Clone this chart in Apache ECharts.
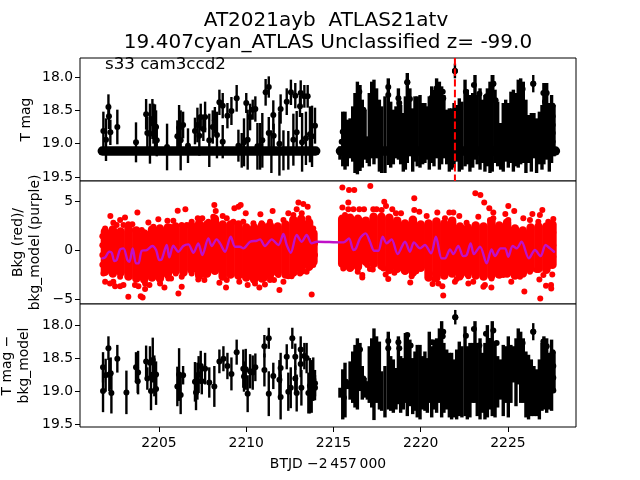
<!DOCTYPE html>
<html><head><meta charset="utf-8">
<script src="https://cdn.jsdelivr.net/npm/echarts@6/dist/echarts.min.js"></script>
<style>html,body{margin:0;background:#fff}#c{width:640px;height:480px}</style></head>
<body><div id="c"></div>
<script>
const titleLine1 = "AT2021ayb  ATLAS21atv";
const titleLine2 = "19.407cyan_ATLAS Unclassified z= -99.0";
const sectorNote = "s33 cam3ccd2";
const xLabel = "BTJD \u22122\u2009457\u2009000";
const xTicks = [2205, 2210, 2215, 2220, 2225];
const magTicks = [18, 18.5, 19, 19.5];
const bkgTicks = [-5, 0, 5];
const eventTime = 2221.96;

// Panel 1: individually readable points (time, mag, error)
const sparseT = [2201.81,2201.96,2202.10,2202.13,2202.21,2202.61,2203.68,2204.26,2204.33,2204.48,2204.62,2204.68,2204.77,2204.83,2204.87,2205.46,2206.05,2206.15,2206.24,2206.38,2206.66,2207.06,2207.2,2207.31,2207.39,2207.54,2207.64,2207.88,2208.08,2208.2,2208.32,2208.46,2208.65,2208.65,2208.92,2209.15,2209.45,2209.55,2209.74,2209.87,2210.0,2210.08,2210.22,2210.37,2210.52,2210.64,2210.79,2210.92,2211.11,2211.29,2211.29,2211.44,2211.55,2211.57,2211.9,2211.97,2212.13,2212.32,2212.41,2212.56,2212.7,2212.81,2212.89,2213.12,2213.08,2213.2,2213.33,2213.42,2213.52,2213.65,2213.77,2213.94,2221.96,2226.45,2224.16,2219.23];
const sparseMag = [18.81,18.94,18.45,18.59,18.83,18.75,18.98,18.56,18.84,18.85,18.63,18.7,18.76,18.75,18.95,19.05,18.89,18.76,18.95,18.72,19.03,18.81,18.72,18.88,18.6,18.78,18.6,18.95,18.75,18.65,18.87,18.38,18.43,18.97,18.58,18.51,18.32,19.03,19.1,18.98,18.39,18.94,18.6,18.49,18.48,19.04,19.04,18.95,18.23,18.15,18.84,19.12,18.57,18.88,19.0,18.48,19.1,18.37,19.1,18.23,18.94,18.28,18.83,18.24,18.44,18.98,18.29,18.92,18.29,18.86,18.89,18.73,17.91,18.10,18.10,18.08];
const sparseErr = [.29,.32,.19,.19,.19,.26,.3,.23,.24,.45,.3,.3,.35,.25,.24,.35,.24,.34,.45,.2,.26,.2,.26,.3,.2,.18,.23,.4,.25,.2,.35,.19,.19,.25,.19,.21,.2,.24,.26,.36,.15,.45,.2,.15,.19,.35,.35,.41,.2,.16,.24,.32,.22,.18,.48,.22,.3,.2,.29,.19,.39,.19,.32,.19,.16,.44,.17,.4,.17,.42,.46,.27,.11,.13,.13,.13];

// Limit-level runs of the first panel (mag reads 19.11 over each orbit)
const limitLeftT = [2201.75, 2213.98];
const limitRightT = [2215.4, 2227.72];
const limitMag = [19.11, 19.11];

// Dense second orbit: shared times with the bright/faint end of each bar
const denseT = [2215.37,2215.53,2215.66,2215.79,2215.95,2216.10,2216.23,2216.37,2216.52,2216.65,2216.81,2216.94,2217.05,2217.19,2217.32,2217.47,2217.63,2217.76,2217.95,2218.14,2218.28,2218.43,2218.58,2218.72,2218.85,2219.0,2219.12,2219.23,2219.38,2219.54,2219.67,2219.80,2219.96,2220.11,2220.24,2220.38,2220.49,2220.63,2220.76,2220.91,2221.07,2221.2,2221.33,2221.49,2221.64,2221.77,2221.91,2222.06,2222.21,2222.36,2222.54,2222.67,2222.82,2222.98,2223.11,2223.24,2223.40,2223.55,2223.68,2223.82,2223.97,2224.10,2224.26,2224.41,2224.58,2224.73,2224.87,2225.02,2225.17,2225.31,2225.46,2225.59,2225.73,2225.88,2226.03,2226.18,2226.34,2226.49,2226.64,2226.80,2226.95,2227.06,2227.22,2227.37,2227.50,2227.64];
const denseTopBright = [19.04,18.52,18.52,18.64,18.62,18.44,18.24,18.07,18.12,18.34,18.49,18.89,18.24,18.07,18.04,18.17,18.34,18.44,18.29,18.02,18.37,18.49,18.44,18.17,18.42,18.54,18.29,17.94,18.17,18.47,18.29,18.29,18.27,18.39,18.39,18.44,18.29,18.14,18.19,18.02,18.07,18.14,18.27,18.49,18.47,18.47,18.39,18.42,18.32,18.37,18.04,18.19,18.27,18.24,17.97,18.27,18.17,18.34,18.27,18.17,18.07,17.97,18.19,18.37,18.69,18.39,18.34,18.39,18.22,18.19,18.24,18.04,18.02,18.07,18.34,18.57,18.54,18.54,18.62,18.52,18.42,18.09,18.09,18.39,18.27,18.42];
const denseTopFaint = [19.24,19.34,19.39,19.34,19.22,19.27,19.44,19.46,19.41,19.36,19.24,19.29,19.34,19.22,19.31,19.22,19.42,19.44,19.44,19.32,19.36,19.31,19.22,19.24,19.31,19.42,19.39,19.29,19.19,19.42,19.27,19.34,19.36,19.31,19.29,19.24,19.39,19.29,19.34,19.22,19.39,19.31,19.22,19.31,19.42,19.39,19.36,19.27,19.42,19.39,19.34,19.31,19.42,19.36,19.24,19.31,19.39,19.29,19.42,19.34,19.44,19.42,19.29,19.34,19.39,19.42,19.27,19.36,19.29,19.42,19.34,19.36,19.31,19.29,19.44,19.29,19.42,19.22,19.44,19.31,19.39,19.31,19.24,19.42,19.29,19.19];
const denseTopDotT = [2215.53,2216.48,2216.71,2218.14,2218.14,2218.72,2218.77,2219.23,2219.38,2220.63,2220.91,2221.26,2221.29,2221.96,2222.59,2223.05,2223.36,2223.78,2223.97,2224.16,2224.29,2225.84,2226.45,2227.03,2227.22,2227.12,2227.56,2227.56,2227.56,2227.56,2227.56,2215.47];
const denseTopDotMag = [18.82,18.22,18.49,18.15,18.27,18.32,18.39,18.08,18.33,18.31,18.17,18.22,18.32,17.91,18.22,18.12,18.25,18.29,18.22,18.10,18.35,18.18,18.10,18.24,18.24,18.37,18.43,18.59,18.72,18.84,18.97,18.97];

// Panel 2: background core per time column (low, high) and individual points
const coreT = [2201.9,2202.35,2202.8,2203.25,2203.7,2204.15,2204.6,2205.05,2205.5,2205.95,2206.4,2206.85,2207.3,2207.75,2208.2,2208.65,2209.1,2209.55,2210.0,2210.45,2210.9,2211.35,2211.8,2212.25,2212.7,2213.15,2213.6,2213.85,2215.5,2215.95,2216.4,2216.85,2217.3,2217.75,2218.2,2218.65,2219.1,2219.55,2220.0,2220.45,2220.9,2221.35,2221.8,2222.25,2222.7,2223.15,2223.6,2224.05,2224.5,2224.95,2225.4,2225.85,2226.3,2226.75,2227.2,2227.55];
const coreLow = [-2.2,-2.4,-2.3,-2.7,-2.9,-3,-2.8,-2.9,-2.5,-2.1,-2.3,-2,-2.6,-2.4,-2.1,-2.7,-2.5,-2.6,-2.8,-3,-2.9,-2.6,-2.3,-2.5,-2.3,-2.1,-1.7,-1.2,-1.4,-1.8,-1.7,-1.2,-1.4,-1.6,-2,-1.9,-2.1,-2.3,-1.8,-2.8,-2.8,-2.6,-2.4,-2.6,-2.4,-2.6,-2.7,-2.6,-2.5,-2.4,-2.6,-2.4,-1.9,-1.9,-2,-1.5];
const coreHigh = [1.9,2.1,1.9,2.2,2,1.7,2.1,2.2,2.3,2.4,2.2,2.5,2.7,2.6,3.2,2.6,2.6,2.6,2.3,2.3,2.5,2.5,2.4,2.6,3.1,3.2,2.8,1.7,3.2,3.3,3.2,3,3.4,3.4,3.3,3,2.7,3.1,2.6,2.7,2.9,2.7,3,2.4,2.3,2.5,2.4,2.9,2.5,2.8,2.2,2,2.3,2.4,2.4,2.6];
const bkgT = [2202.21,2203.05,2203.76,2202.77,2202.38,2201.91,2202.57,2202.96,2203.24,2203.47,2204.39,2204.96,2205.48,2205.82,2206.07,2206.51,2206.87,2207.22,2207.48,2208.17,2208.25,2208.65,2208.88,2209.32,2209.55,2209.68,2209.97,2210.81,2211.51,2212.41,2212.99,2213.27,2213.52,2212.89,2212.7,2213.18,2213.56,2213.84,2212.13,2211.36,2209.83,2209.26,2208.11,2207.83,2206.59,2206.3,2205.63,2204.68,2204.01,2203.62,2210.41,2210.88,
2201.91,2202.19,2202.38,2202.48,2202.77,2202.96,2202.77,2203.24,2203.95,2204.06,2203.62,2203.82,2204.2,2204.45,2204.2,2205.06,2205.31,2205.54,2205.69,2205.96,2206.3,2206.11,2206.3,2206.87,2207.25,2207.6,2207.64,2208.46,2208.84,2208.88,2209.6,2210.08,2210.5,2210.75,2211.07,2211.04,2211.36,2211.59,2211.9,2212.13,2211.84,2212.41,2212.6,2213.08,2213.46,2213.75,2213.84,2213.94,2213.94,2201.81,2202.0,2201.75,2201.75,2201.75,2201.75,2213.84,2213.84,
2215.51,2215.89,2216.19,2217.11,2217.91,2215.85,2219.63,2223.13,2223.42,2223.64,2223.93,2224.16,2225.02,2225.36,2224.85,2223.3,2226.4,2226.97,2226.83,2225.88,2226.26,2226.74,2227.6,2227.31,2220.95,2221.64,2221.87,2222.21,2222.63,2221.39,2220.34,2219.92,2219.63,2218.87,2218.58,2218.37,2218.01,2217.76,2217.47,2217.28,2216.75,2216.48,2216.14,2215.85,2215.51,2215.66,2215.47,2224.16,2223.97,2225.02,
2215.56,2215.76,2216.39,2216.65,2216.65,2216.94,2217.09,2217.25,2217.86,2217.99,2218.2,2218.14,2218.49,2219.75,2219.48,2219.4,2220.68,2220.78,2221.01,2221.24,2221.29,2221.96,2222.06,2222.25,2222.73,2222.73,2223.01,2223.59,2223.68,2224.05,2224.06,2225.19,2225.69,2225.94,2226.8,2226.85,2227.03,2227.18,2227.47,2227.48,2227.54,2227.37,2226.64,2226.26,2224.73,2224.44,2221.58,2220.53,2227.6,2227.6,2227.6,2215.47,2215.47];
const bkgValue = [3.47,3.33,3.84,3.06,2.79,2.21,2.55,2.55,2.62,2.62,2.82,3.13,2.99,2.99,4.01,4.15,2.89,3.23,3.23,4.59,3.98,3.47,3.23,4.25,4.42,4.59,3.74,3.64,3.98,3.74,4.86,4.69,4.42,4.15,3.57,3.74,3.23,2.21,3.06,2.89,2.89,2.89,3.4,2.89,2.55,2.55,2.38,2.38,2.04,2.04,2.72,2.72,
-3.23,-3.4,-3.23,-3.68,-3.68,-3.57,-2.72,-4.77,-4.7,-4.83,-3.57,-3.68,-3.98,-3.57,-3.4,-3.4,-3.81,-2.89,-2.89,-2.38,-3.74,-4.42,-2.72,-2.38,-3,-3.06,-2.55,-3.34,-3.81,-3.06,-3.23,-3.57,-3.4,-3.81,-3.51,-2.89,-3.06,-3.06,-4.08,-3.23,-2.55,-2.66,-2.66,-2.38,-2.21,-4.53,-1.53,-0.51,0.68,-2.38,-2.04,1.4,0.5,-0.5,-1.5,1.7,0.34,
6.39,6.12,6.12,6.53,4.93,4.86,5.27,5.78,5.61,4.86,4.25,3.84,4.49,3.98,3.67,3.4,3.67,4.08,3.57,3.23,3.06,2.89,3.16,2.89,3.84,3.84,3.84,3.47,2.79,3.23,3.47,3.91,4.08,3.74,3.74,4.15,4.49,4.08,4.15,4.15,4.15,4.15,4.15,4.15,4.35,3.57,2.55,3.23,3.06,3.06,
-1.87,-1.53,-2.21,-2.55,-2.79,-1.53,-1.94,-1.97,-1.87,-2.49,-2.11,-2.96,-2.32,-2.15,-2.66,-3.3,-3.47,-3,-3.4,-3.68,-4.63,-3.23,-2.96,-2.79,-3.4,-2.66,-3.23,-3.74,-3.57,-3.81,-2.89,-3.23,-2.72,-4.22,-3,-4.93,-2.55,-3.64,-3.57,-3.91,-2.49,-1.63,-2.04,-2.21,-2.55,-2.55,-2.21,-2.38,-0.68,0.5,1.8,-0.51,0.51];
const modelT = [2201.75,2201.91,2202.15,2202.29,2202.44,2202.57,2202.77,2202.96,2203.19,2203.3,2203.49,2203.68,2203.82,2204.01,2204.29,2204.62,2204.83,2205.02,2205.15,2205.44,2205.59,2205.82,2206.11,2206.39,2206.68,2206.97,2207.25,2207.48,2207.83,2208.02,2208.3,2208.5,2208.78,2209.11,2209.36,2209.64,2209.83,2210.22,2210.6,2210.79,2211.07,2211.46,2211.84,2212.13,2212.32,2212.55,2212.89,2213.18,2213.46,2213.75,2214.04,2215.47,2215.66,2215.89,2216.14,2216.29,2216.52,2216.84,2217.09,2217.34,2217.57,2217.82,2218.05,2218.33,2218.68,2219.1,2219.38,2219.61,2219.96,2220.24,2220.59,2220.87,2221.2,2221.39,2221.68,2221.87,2222.15,2222.44,2222.63,2222.86,2223.05,2223.4,2223.78,2224.06,2224.26,2224.58,2224.83,2225.02,2225.27,2225.5,2225.78,2226.2,2226.55,2226.87,2227.16,2227.41,2227.64];
const modelValue = [-0.85,-0.75,-0.17,-0.27,-1.13,-1.02,0.07,0.17,-1.02,-1.19,0.17,-1.36,-1.36,-0.07,0,0.41,0,-1.02,-0.96,0.51,-0.75,0.44,-0.17,0.41,0.58,-0.27,0.68,-0.51,1.19,0.41,1.09,0.68,-0.17,1.36,0.34,0.34,0.17,0.85,0.95,1.09,0.41,1.09,0.51,1.63,0.51,-0.27,1.53,0.85,1.53,0.68,0.85,0.78,0.85,1.19,0,0.17,1.19,1.7,0.85,-0.07,-0.07,1.36,0.68,1.09,-0.41,0.85,-0.17,0.78,0.17,0.51,-0.34,1.36,-0.85,-0.85,0.07,-0.41,0.41,-0.62,-0.51,0.68,-0.41,0.34,-1.36,0.07,-0.62,0.17,0.17,-0.68,0.41,0.17,0.85,-0.85,0,-0.62,0.51,0.17,-0.17];

// Panel 3: detrended magnitudes
const detT = [2201.79,2201.79,2201.94,2202.10,2202.15,2202.23,2202.27,2202.61,2203.13,2203.68,2203.78,2203.8,2204.26,2204.33,2204.48,2204.54,2204.64,2204.73,2204.83,2204.83,2206.05,2206.15,2206.24,2206.38,2207.06,2207.12,2207.2,2207.27,2207.39,2207.45,2207.64,2207.88,2208.17,2208.46,2208.69,2208.92,2209.15,2209.45,2209.83,2209.87,2209.97,2210.08,2210.22,2210.37,2210.52,2211.04,2211.04,2211.29,2211.29,2211.55,2211.9,2211.97,2211.97,2212.32,2212.41,2212.55,2212.64,2212.81,2212.81,2212.89,2213.12,2213.12,2213.16,2213.33,2213.46,2213.56,2213.65,2213.75,2213.84,2213.94,2213.94,2221.98,2226.45];
const detMag = [18.64,19,18.76,18.35,18.75,18.73,19.03,18.51,19.02,18.64,18.85,18.72,18.55,18.81,18.57,19,18.53,18.77,18.75,18.97,18.93,18.75,19.06,18.76,18.86,19.02,18.85,18.75,18.62,18.85,18.66,18.87,18.93,18.55,18.51,18.62,18.74,18.41,18.66,18.78,18.67,19.04,18.7,18.72,18.64,18.32,18.68,18.2,19.04,18.77,18.83,18.65,19.09,18.48,19.01,18.95,18.2,18.48,18.81,19.03,18.37,18.59,18.95,18.47,18.5,19.03,18.92,18.93,18.82,18.88,18.95,17.88,18.1];
const detErr = [.23,.32,.25,.18,.25,.24,.31,.21,.33,.23,.18,.33,.24,.17,.25,.29,.34,.31,.2,.24,.3,.4,.29,.14,.3,.27,.28,.28,.23,.2,.24,.23,.31,.18,.19,.2,.25,.19,.29,.23,.31,.28,.26,.26,.21,.17,.25,.16,.34,.2,.3,.23,.34,.19,.29,.31,.16,.2,.2,.28,.2,.2,.27,.2,.23,.31,.42,.4,.33,.2,.19,.11,.13];
const denseDetBright = [18.95,18.67,18.57,18.85,18.55,18.40,18.30,18.20,18.27,18.62,18.80,18.85,18.32,18.20,18.05,18.17,18.25,18.70,18.62,18.10,18.47,18.52,18.65,18.17,18.47,18.50,18.12,18.13,18.22,18.50,18.40,18.30,18.30,18.47,18.40,18.50,18.10,18.32,18.22,18.20,18.05,17.94,18.27,18.37,18.42,18.42,18.52,18.37,18.25,18.32,18.02,18.32,18.27,18.27,17.94,18.27,18.20,18.42,18.27,18.00,18.20,17.94,18.25,18.47,18.52,18.30,18.32,18.17,18.30,18.32,18.20,18.05,18.10,18.20,18.40,18.45,18.52,18.62,18.67,18.52,18.27,18.17,18.20,18.42,18.22,18.40];
const denseDetFaint = [19.1,19.43,19.40,18.97,19.13,19.18,19.25,19.28,19.0,19.13,19.10,19.13,19.18,19.25,19.44,19.18,19.28,19.30,19.40,19.28,19.30,19.33,19.28,19.20,19.33,19.28,19.18,19.38,19.23,19.35,19.30,19.40,19.43,19.28,19.30,19.33,19.18,19.40,19.28,19.33,19.18,19.40,19.33,19.28,19.40,19.43,19.40,19.43,19.38,19.40,19.38,19.43,19.40,19.18,19.18,19.38,19.43,19.33,19.43,19.40,19.28,19.38,19.40,19.25,19.13,19.38,19.18,19.40,19.18,18.87,19.23,18.90,19.18,19.18,19.40,19.43,19.38,19.38,19.38,19.43,19.30,19.28,19.33,19.28,19.30,18.97];
const denseDetDotT = [2215.53,2215.6,2215.72,2216.52,2216.71,2218.14,2218.14,2218.72,2218.77,2219.23,2219.42,2220.63,2220.63,2221.26,2221.29,2220.97,2221.98,2222.59,2223.05,2223.36,2223.74,2223.97,2224.16,2224.35,2225.84,2226.45,2227.03,2227.22,2227.12,2227.56,2227.6,2227.6,2227.6];
const denseDetDotMag = [19.02,19.1,18.86,18.37,18.81,18.24,18.35,18.26,18.35,18.15,18.31,18.26,18.40,18.17,18.10,18.30,17.88,18.16,18.06,18.31,18.13,18.24,18.08,18.27,18.27,18.1,18.25,18.32,18.46,18.41,18.62,18.80,18.99];

const zip2 = (a, b) => a.map((v, i) => [v, b[i]]);
const zip3 = (a, b, c) => a.map((v, i) => [v, b[i], c[i]]);
const FONT = 'DejaVu Sans';

function rangeItem(width, color, cap) {
  return function (params, api) {
    const a = api.coord([api.value(0), api.value(1)]);
    const b = api.coord([api.value(0), api.value(2)]);
    return { type: 'line', shape: { x1: a[0], y1: a[1], x2: b[0], y2: b[1] },
      style: { stroke: color, lineWidth: width, lineCap: cap } };
  };
}
const ranges = (g, data, w, color, cap, z) => ({ type: 'custom', xAxisIndex: g, yAxisIndex: g, clip: true, z: z || 2,
  renderItem: rangeItem(w, color, cap || 'butt'), encode: { x: 0, y: [1, 2] }, data: data, silent: true });
const dots = (g, data, size, color, z) => ({ type: 'scatter', xAxisIndex: g, yAxisIndex: g, clip: true, z: z || 3,
  symbolSize: size, itemStyle: { color: color, opacity: 1 }, data: data, silent: true });
const thick = (g, data, w, color, z, dash, smooth) => ({ type: 'line', xAxisIndex: g, yAxisIndex: g, clip: true, z: z || 3, symbol: 'none', smooth: smooth || false,
  lineStyle: { width: w, color: color, cap: dash ? 'butt' : 'round', type: dash || 'solid', join: 'round' }, data: data, silent: true });

const sparseRanges = (t, m, e) => t.map((v, i) => [v, m[i] - e[i], m[i] + e[i]]);

const grids = [
  { left: 80, width: 496, top: 58, height: 123 },
  { left: 80, width: 496, top: 181, height: 123 },
  { left: 80, width: 496, top: 304, height: 123 }
].map(g => Object.assign(g, { show: true, borderColor: '#000', borderWidth: 1, backgroundColor: '#fff', containLabel: false, outerBoundsMode: 'none' }));

const xAxis = [0, 1, 2].map(i => ({
  type: 'value', gridIndex: i, min: 2200.47, max: 2228.9, splitLine: { show: false }, axisLine: { show: false },
  axisTick: { show: i === 2, length: 5, lineStyle: { color: '#000', width: 1 }, customValues: xTicks },
  axisLabel: { show: i === 2, color: '#000', fontFamily: FONT, fontSize: 13.9, margin: 9, customValues: xTicks, formatter: v => String(v) },
  name: i === 2 ? xLabel : '', nameLocation: 'middle', nameGap: 30, nameMoveOverlap: false,
  nameTextStyle: { color: '#000', fontFamily: FONT, fontSize: 13.9 }
}));
const yBase = (i, min, max, inverse, ticks, name, gap, fmt) => ({
  type: 'value', gridIndex: i, min: min, max: max, inverse: inverse, splitLine: { show: false }, axisLine: { show: false },
  axisTick: { length: 5, lineStyle: { color: '#000', width: 1 }, customValues: ticks },
  axisLabel: { color: '#000', fontFamily: FONT, fontSize: 13.9, margin: 7, customValues: ticks, formatter: fmt },
  name: name, nameLocation: 'middle', nameRotate: 90, nameGap: gap, nameMoveOverlap: false,
  nameTextStyle: { color: '#000', fontFamily: FONT, fontSize: 13.9, lineHeight: 17 }
});
const yAxis = [
  yBase(0, 17.715, 19.56, true, magTicks, 'T mag', 45, v => v.toFixed(1)),
  yBase(1, -5.5, 7.04, false, bkgTicks, 'Bkg (red)/\nbkg_model (purple)', 36, v => String(v).replace('-', '\u2212')),
  yBase(2, 17.68, 19.545, true, magTicks, 'T mag \u2212\nbkg_model', 47, v => v.toFixed(1))
];

const series = [
  thick(0, zip2(limitLeftT, limitMag), 9.5, '#000', 2),
  thick(0, zip2(limitRightT, limitMag), 9.5, '#000', 2),
  ranges(0, sparseRanges(sparseT, sparseMag, sparseErr), 2.4, '#000'),
  dots(0, zip2(sparseT, sparseMag), 6, '#000'),
  ranges(0, zip3(denseT, denseTopBright, denseTopFaint), 3.4, '#000'),
  dots(0, zip2(denseTopDotT, denseTopDotMag), 6, '#000'),
  thick(0, [[eventTime, 17.715], [eventTime, 19.56]], 2, '#f00', 5, [7.4, 3.2]),
  ranges(1, zip3(coreT, coreLow, coreHigh), 8.5, '#f00', 'round'),
  dots(1, zip2(bkgT, bkgValue), 6, '#f00'),
  thick(1, zip2(modelT, modelValue), 2.4, '#bf10c8', 6, null, 0.3),
  ranges(2, sparseRanges(detT, detMag, detErr), 2.4, '#000'),
  dots(2, zip2(detT, detMag), 6, '#000'),
  ranges(2, zip3(denseT, denseDetBright, denseDetFaint), 3.4, '#000'),
  dots(2, zip2(denseDetDotT, denseDetDotMag), 6, '#000')
];

const chart = echarts.init(document.getElementById('c'), null, { renderer: 'canvas' });
chart.setOption({
  animation: false, backgroundColor: '#fff', grid: grids, xAxis: xAxis, yAxis: yAxis, series: series,
  graphic: [
    { type: 'text', z: 20, style: { text: titleLine1, x: 326, y: 21, fill: '#000', font: '20px "DejaVu Sans"', textAlign: 'center', textVerticalAlign: 'middle' } },
    { type: 'text', z: 20, style: { text: titleLine2, x: 328, y: 43, fill: '#000', font: '20px "DejaVu Sans"', textAlign: 'center', textVerticalAlign: 'middle' } },
    { type: 'text', z: 20, style: { text: sectorNote, x: 105, y: 65, fill: '#000', font: '16.67px "DejaVu Sans"', textAlign: 'left', textVerticalAlign: 'middle' } }
  ]
});
</script></body></html>
